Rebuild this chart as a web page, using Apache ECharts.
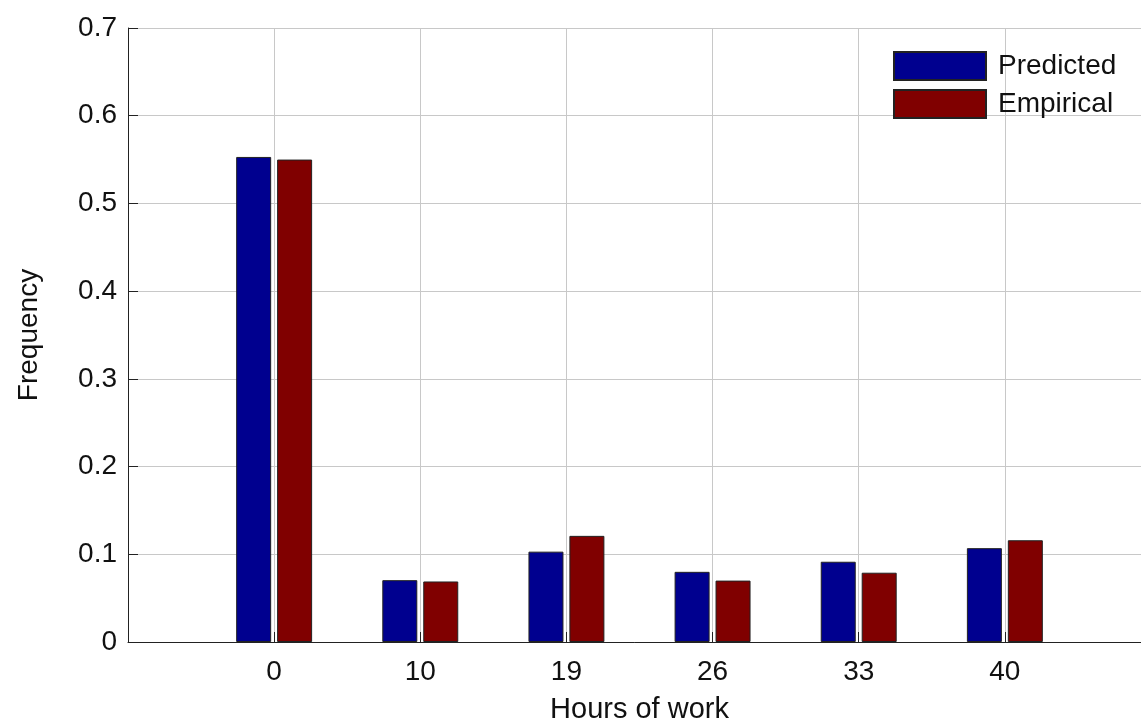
<!DOCTYPE html>
<html>
<head>
<meta charset="utf-8">
<script src="https://cdn.jsdelivr.net/npm/echarts@6/dist/echarts.min.js"></script>
<style>
html,body{margin:0;padding:0;background:#fff;}
#chart{width:1141px;height:720px;}
</style>
</head>
<body>
<div id="chart"></div>
<script>
// Categories (padded with blank slots at each end, as in the reference axis range)
const categories = ['', '0', '10', '19', '26', '33', '40', ''];
const predicted = [null, 0.553, 0.0705, 0.103, 0.080, 0.0915, 0.107, null];
const empirical = [null, 0.550, 0.069, 0.121, 0.070, 0.079, 0.116, null];
const yTicks = [0, 0.1, 0.2, 0.3, 0.4, 0.5, 0.6, 0.7];

const FONT = '"Liberation Sans", Arial, sans-serif';
const chart = echarts.init(document.getElementById('chart'), null, {renderer: 'canvas'});
chart.setOption({
  animation: false,
  backgroundColor: '#ffffff',
  grid: {left: 128, top: 28, width: 1023, bottom: 78, containLabel: false, outerBoundsMode: 'none'},
  legend: {
    orient: 'vertical',
    left: 888,
    top: 46,
    itemWidth: 92,
    itemHeight: 28,
    itemGap: 8,
    icon: 'rect',
    textStyle: {fontFamily: FONT, fontSize: 28, color: '#111', padding: [0, 0, 0, 7]},
    data: ['Predicted', 'Empirical']
  },
  xAxis: {
    type: 'category',
    data: categories,
    boundaryGap: false,
    name: 'Hours of work',
    nameLocation: 'middle',
    nameGap: 53,
    nameTextStyle: {fontFamily: FONT, fontSize: 29, color: '#111'},
    axisLine: {lineStyle: {color: '#222', width: 1}},
    axisTick: {inside: true, length: 10, lineStyle: {color: '#222'}},
    axisLabel: {fontFamily: FONT, fontSize: 28, color: '#111', margin: 16},
    splitLine: {show: true, lineStyle: {color: '#c8c8c8', width: 1}}
  },
  yAxis: {
    type: 'value',
    min: yTicks[0],
    max: yTicks[yTicks.length - 1],
    interval: 0.1,
    name: 'Frequency',
    nameLocation: 'middle',
    nameGap: 85,
    nameTextStyle: {fontFamily: FONT, fontSize: 28, color: '#111'},
    axisLine: {show: true, lineStyle: {color: '#222', width: 1}},
    axisTick: {show: true, inside: true, length: 10, lineStyle: {color: '#222'}},
    axisLabel: {fontFamily: FONT, fontSize: 28, color: '#111', margin: 11,
      formatter: v => (Math.round(v * 10) / 10).toString()},
    splitLine: {show: true, lineStyle: {color: '#c8c8c8', width: 1}}
  },
  series: [
    {name: 'Predicted', type: 'bar', data: predicted, barWidth: 35, barGap: '17%',
     itemStyle: {color: '#00008f', borderColor: '#222', borderWidth: 1}},
    {name: 'Empirical', type: 'bar', data: empirical, barWidth: 35, barGap: '17%',
     itemStyle: {color: '#800000', borderColor: '#222', borderWidth: 1}}
  ]
});
</script>
</body>
</html>
